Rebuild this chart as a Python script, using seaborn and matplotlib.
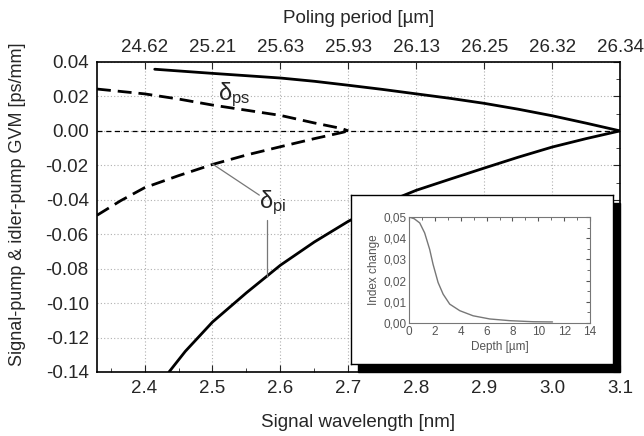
import numpy as np
import pandas as pd
import matplotlib
matplotlib.use("Agg")
import matplotlib.pyplot as plt
import seaborn as sns
from matplotlib.patches import Rectangle
from matplotlib.ticker import MultipleLocator, FuncFormatter

# main curves (signal wavelength vs GVM)
wl_ps_solid = [2.415, 2.5, 2.6, 2.65, 2.7, 2.75, 2.8, 2.85, 2.9, 2.95, 3.0, 3.05, 3.1]
gvm_ps_solid = [0.0358, 0.0334, 0.0307, 0.0288, 0.0265, 0.0241, 0.0215, 0.0189, 0.016,
                0.0126, 0.0088, 0.0045, 0.0]

wl_pi_solid = [2.436, 2.46, 2.5, 2.55, 2.6, 2.65, 2.7, 2.75, 2.8, 2.85, 2.9, 2.95, 3.0, 3.05, 3.1]
gvm_pi_solid = [-0.14, -0.128, -0.111, -0.094, -0.078, -0.0645, -0.0525, -0.0425, -0.0345,
                -0.028, -0.0216, -0.0153, -0.0094, -0.0045, 0.0]

wl_ps_dash = [2.33, 2.4, 2.45, 2.5, 2.55, 2.6, 2.65, 2.69, 2.7]
gvm_ps_dash = [0.0243, 0.0215, 0.0185, 0.015, 0.012, 0.009, 0.0046, 0.0014, 0.0]

wl_pi_dash = [2.33, 2.365, 2.4, 2.45, 2.5, 2.55, 2.6, 2.65, 2.69, 2.7]
gvm_pi_dash = [-0.049, -0.0405, -0.033, -0.026, -0.0195, -0.014, -0.0092, -0.0045, -0.001, 0.0]

top_ticks = [2.4, 2.5, 2.6, 2.7, 2.8, 2.9, 3.0, 3.1]
top_labels = ["24.62", "25.21", "25.63", "25.93", "26.13", "26.25", "26.32", "26.34"]

# inset: index profile
depth = [0.0, 0.4, 0.83, 1.21, 1.6, 1.86, 2.25, 2.64, 3.15, 3.93, 4.96, 6.25, 7.8, 9.6, 11.1]
index_change = [0.05, 0.0492, 0.0472, 0.0425, 0.0347, 0.0277, 0.0191, 0.0136, 0.0089,
                0.0058, 0.0034, 0.0019, 0.0011, 0.0006, 0.0005]

sns.set_style("white")
plt.rcParams['font.family'] = ['Liberation Sans', 'DejaVu Sans']
plt.rcParams['mathtext.fontset'] = 'custom'
plt.rcParams['mathtext.rm'] = 'Liberation Sans'
plt.rcParams['mathtext.it'] = 'Liberation Sans'

fig = plt.figure(figsize=(6.44, 4.36), dpi=100)
ax = fig.add_axes([97 / 644, 1 - 372 / 436, 523 / 644, 310 / 436])

sns.lineplot(x=wl_ps_solid, y=gvm_ps_solid, ax=ax, color="black", lw=2, sort=False)
sns.lineplot(x=wl_pi_solid, y=gvm_pi_solid, ax=ax, color="black", lw=2, sort=False)
l1 = sns.lineplot(x=wl_ps_dash, y=gvm_ps_dash, ax=ax, color="black", lw=2, sort=False).lines[-1]
l1.set_dashes((5, 2.5))
l2 = sns.lineplot(x=wl_pi_dash, y=gvm_pi_dash, ax=ax, color="black", lw=2, sort=False).lines[-1]
l2.set_dashes((5, 2.5))
ax.axhline(0, color="black", lw=0.9, dashes=(4, 3))

ax.set_xlim(2.33, 3.1)
ax.set_ylim(-0.14, 0.04)
ax.xaxis.set_major_locator(MultipleLocator(0.1))
ax.xaxis.set_minor_locator(MultipleLocator(0.05))
ax.yaxis.set_major_locator(MultipleLocator(0.02))
ax.yaxis.set_minor_locator(MultipleLocator(0.01))
ax.yaxis.set_major_formatter(FuncFormatter(lambda v, p: f"{v:.2f}" if abs(v) > 1e-9 else "0.00"))
ax.xaxis.set_major_formatter(FuncFormatter(lambda v, p: f"{v:.1f}"))
ax.tick_params(which="both", direction="in", right=True, labelsize=13.5, pad=6)
ax.tick_params(which="major", length=5)
ax.tick_params(which="minor", length=3)
ax.grid(True, which="major", color="#b0b0b0", ls=(0, (1, 2)), lw=0.8)
for s in ax.spines.values():
    s.set_linewidth(1.2)
    s.set_color("black")

ax.set_xlabel("Signal wavelength [nm]", fontsize=13.5, labelpad=12)
ax.set_ylabel("Signal-pump & idler-pump GVM [ps/mm]", fontsize=13)
ax.yaxis.set_label_coords(-0.135, 0.54)

ax2 = ax.twiny()
ax2.set_xlim(ax.get_xlim())
ax2.set_xticks(top_ticks)
ax2.set_xticklabels(top_labels)
ax2.tick_params(direction="in", labelsize=13.5, length=5, pad=4)
ax2.set_xlabel("Poling period [\u00b5m]", fontsize=13.5, labelpad=12)
for s in ax2.spines.values():
    s.set_visible(False)

# labels and leader lines
ax.text(2.532, 0.0208, r"$\delta_{\rm ps}$", fontsize=17, ha="center", va="center")
ax.text(2.588, -0.042, r"$\delta_{\rm pi}$", fontsize=17, ha="center", va="center")
ax.plot([2.5, 2.569], [-0.0192, -0.0373], color="#777777", lw=0.9)
ax.plot([2.581, 2.581], [-0.0518, -0.0849], color="#777777", lw=0.9)

# inset box with shadow
bx, by, bw, bh = 351 / 644, 1 - 364 / 436, 262 / 644, 169 / 436
fig.patches.append(Rectangle((bx + 7 / 644, by - 8 / 436), bw, bh, transform=fig.transFigure,
                             facecolor="black", edgecolor="black", zorder=1))
box = fig.add_axes([bx, by, bw, bh], zorder=2)
box.set_facecolor("white")
box.set_xticks([])
box.set_yticks([])
for s in box.spines.values():
    s.set_linewidth(1.0)
    s.set_color("black")

ins = fig.add_axes([409 / 644, 1 - 323 / 436, 181 / 644, 106 / 436], zorder=3)
sns.lineplot(x=depth, y=index_change, ax=ins, color="#777777", lw=1.0)
ins.set_xlim(0, 14)
ins.set_ylim(0, 0.05)
ins.xaxis.set_major_locator(MultipleLocator(2))
ins.xaxis.set_minor_locator(MultipleLocator(1))
ins.yaxis.set_major_locator(MultipleLocator(0.01))
ins.yaxis.set_minor_locator(MultipleLocator(0.005))
ins.yaxis.set_major_formatter(FuncFormatter(lambda v, p: f"{v:.2f}".replace(".", ",")))
ins.tick_params(which="both", direction="in", top=True, right=True, labelsize=8.5,
                colors="#555555", pad=2)
ins.tick_params(which="major", length=3)
ins.tick_params(which="minor", length=2)
ins.set_xlabel("Depth [\u00b5m]", fontsize=8.5, color="#555555", labelpad=2)
ins.set_ylabel("Index change", fontsize=8.5, color="#555555", labelpad=2)
for s in ins.spines.values():
    s.set_linewidth(0.8)
    s.set_color("#777777")

fig.savefig("out.png", dpi=100)
